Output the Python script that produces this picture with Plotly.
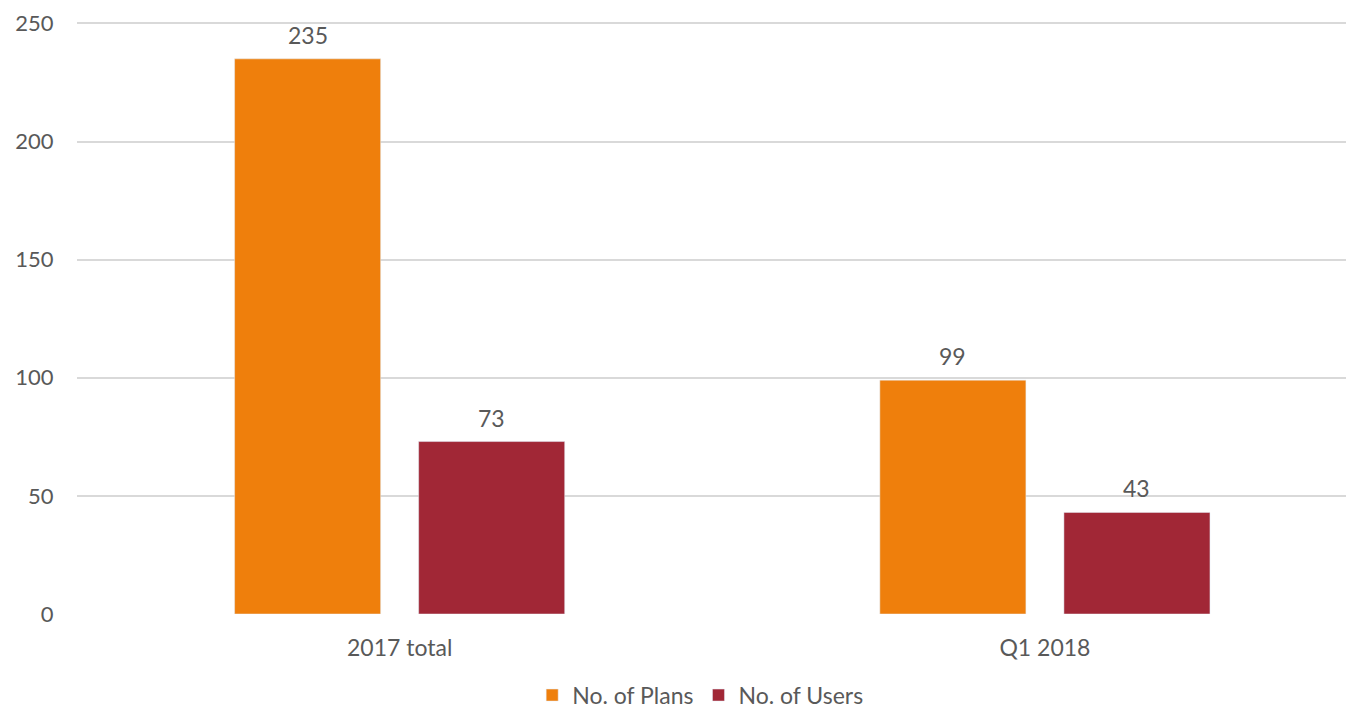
import plotly.graph_objects as go

categories = ["2017 total", "Q1 2018"]
plans = [235, 99]
users = [73, 43]

ORANGE = "#EF7F0C"
RED = "#A12736"
TEXT = "#595959"
FONT = "Lato, Open Sans, sans-serif"

fig = go.Figure()
fig.add_trace(go.Bar(x=categories, y=plans, name="No. of Plans", marker_color=ORANGE))
fig.add_trace(go.Bar(x=categories, y=users, name="No. of Users", marker_color=RED))

# value labels above bars
for vals, shift in ((plans, -92), (users, 92)):
    for cat, v in zip(categories, vals):
        fig.add_annotation(x=cat, y=v, text=str(v), showarrow=False,
                           xshift=shift, yshift=24, yanchor="middle",
                           font=dict(size=23, color=TEXT, family=FONT))

fig.update_layout(
    width=1354, height=707,
    margin=dict(l=69, r=8, t=14, b=101, autoexpand=False),
    plot_bgcolor="white", paper_bgcolor="white",
    barmode="group", bargap=0.4295, bargroupgap=0.2065,
    font=dict(family=FONT, size=23, color=TEXT),
    showlegend=True,
    legend=dict(orientation="h", x=0.488, xanchor="center", y=-0.137, yanchor="middle",
                font=dict(size=23, color=TEXT), itemwidth=30),
)
fig.update_xaxes(range=[-0.5, 1.479], showgrid=False, showline=False, automargin=False,
                 ticks="outside", ticklen=0, ticklabelstandoff=13,
                 tickfont=dict(size=23, color=TEXT))
fig.update_yaxes(range=[0, 250.6], tickvals=[0, 50, 100, 150, 200, 250],
                 showgrid=True, gridcolor="#D9D9D9", gridwidth=1.5, automargin=False,
                 zeroline=False, showline=False, ticks="outside", ticklen=0,
                 ticklabelstandoff=18, tickfont=dict(size=22, color=TEXT))

fig.write_html("out.html")
